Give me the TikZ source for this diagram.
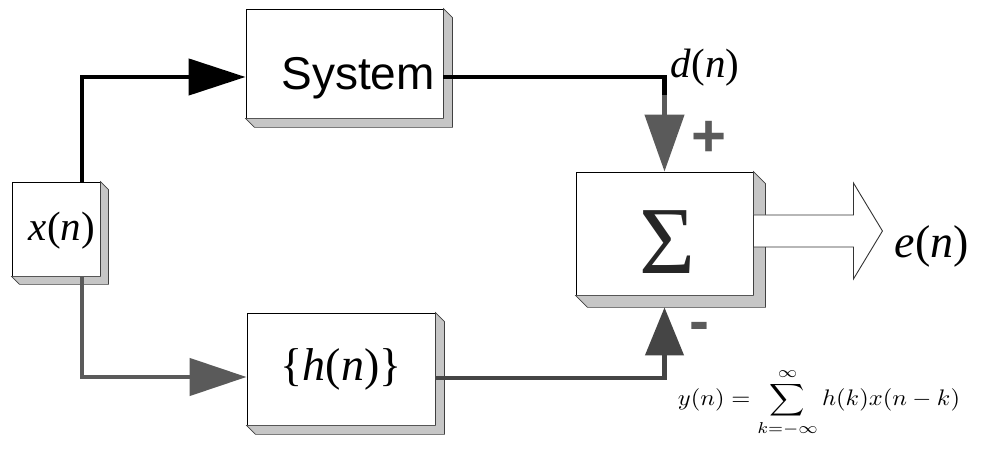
\documentclass[tikz,border=0pt]{standalone}
\usepackage{fontspec}
\setmainfont{Liberation Serif}
\newfontfamily\arialf{Liberation Sans}
\usetikzlibrary{arrows.meta}
\definecolor{midgray}{HTML}{5A5A5A}
\definecolor{dgray}{HTML}{454545}
\newcommand\bevelbox[2]{%
  \filldraw[bevel] (#1.north east) -- ++(#2,-#2) -- ([shift={(#2,-#2)}]#1.south east)
    -- ([shift={(#2,-#2)}]#1.south west) -- (#1.south west) -- (#1.south east) -- cycle;}
\begin{document}
\begin{tikzpicture}[x=1pt,y=1pt,
  face/.style={draw=black,line width=0.9pt,fill=white,inner sep=0pt},
  bevel/.style={fill=gray!45,draw=black!75,line width=0.6pt},
  conn/.style={line width=4.5pt},
  lbl/.style={font=\fontsize{41}{46}\selectfont},
  sgn/.style={font=\arialf\bfseries\fontsize{60}{64}\selectfont,text=midgray,inner sep=0pt}]
\useasboundingbox (0,0) rectangle (982,452);

% boxes
\node[face,minimum width=88pt,minimum height=94pt] (xn) at (56,223) {};
\bevelbox{xn}{8}
\node[lbl] (xnt) at (62,221) {\textit{x}(\textit{n})};
\node[face,minimum width=197pt,minimum height=109pt] (sys) at (344.5,388.5) {};
\bevelbox{sys}{9}
\node[font=\arialf\fontsize{46}{50}\selectfont] (syst) at (358,374) {System};
\node[face,font=\fontsize{46}{50}\selectfont,minimum width=188pt,minimum height=112pt] (h) at (341,83) {\{\textit{h}(\textit{n})\}};
\bevelbox{h}{9}
\node[face,minimum width=177pt,minimum height=123pt] (sum) at (664.5,218.5) {};
\bevelbox{sum}{12}
\node[font=\fontsize{96}{100}\selectfont,text=black!85] (sig) at (667,210) {Σ};

% connectors
\coordinate (a1) at (82,375);
\draw[conn,-{Triangle[length=57pt,width=36pt]}] (xn.north -| a1) -- (a1) -- (a1 -| sys.west);
\coordinate (a2) at (82,75);
\draw[conn,midgray,-{Triangle[length=57pt,width=37pt]}] (xn.south -| a2) -- (a2) -- (a2 -| h.west);
\coordinate (a3) at (sum.north |- a1);
\coordinate (a4) at ([yshift=-18pt]a3);
\draw[conn] (a3 -| sys.east) -- (a3) -- (a4);
\draw[conn,midgray,-{Triangle[length=57pt,width=39pt]}] (a4) -- (sum.north);
\coordinate (a5) at (sum.south |- 0,74);
\coordinate (sb) at ([yshift=-12pt]sum.south);
\draw[conn,dgray,-{Triangle[length=48pt,width=38pt]}] (h.east |- a5) -- (a5) -- (sb);

% hollow output arrow
\coordinate (o1) at (sum.east |- 0,221);
\filldraw[fill=white,draw=black!80,line width=0.9pt]
  ([yshift=16pt]o1) -- ++(100,0) -- ++(0,32) -- ([xshift=129pt]o1)
  -- ([shift={(100,-48)}]o1) -- ++(0,32) -- ([yshift=-16pt]o1) -- cycle;

% labels
\node[lbl] (dn) at (705,384) {\textit{d}(\textit{n})};
\node[sgn] (plus) at (709,313) {+};
\node[sgn] (minus) at (699,120) {-};
\node[font=\fontsize{46}{50}\selectfont] (en) at (932,206) {\textit{e}(\textit{n})};
\node[inner sep=0pt] (form) at (819,49)
  {\scalebox{2.45}[2.25]{$\displaystyle y(n)=\sum_{k=-\infty}^{\infty} h(k)x(n-k)$}};
\end{tikzpicture}
\end{document}
